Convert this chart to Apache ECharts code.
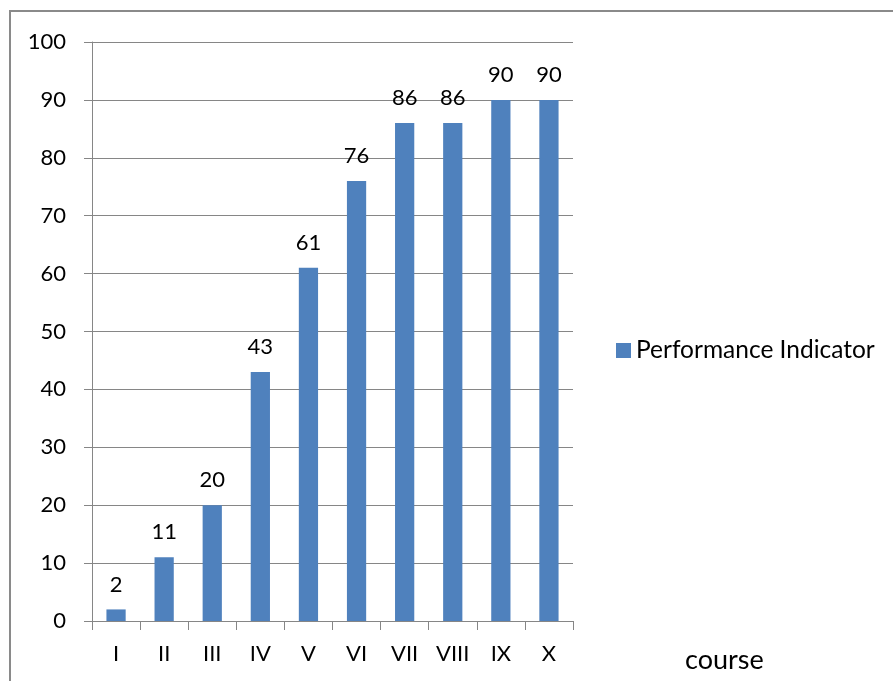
<!DOCTYPE html>
<html>
<head>
<meta charset="utf-8">
<script src="https://cdn.jsdelivr.net/npm/echarts@6/dist/echarts.min.js"></script>
<style>html,body{margin:0;padding:0;background:#fff}#c{width:893px;height:681px}</style>
</head>
<body>
<div id="c"></div>
<script>
const categories = ['I','II','III','IV','V','VI','VII','VIII','IX','X'];
const values = [2, 11, 20, 43, 61, 76, 86, 86, 90, 90];
const seriesName = 'Performance Indicator';
const axisName = 'course';

const FONT = 'Lato, "Open Sans", sans-serif';
const FS = 22;
const chart = echarts.init(document.getElementById('c'), null, {renderer: 'canvas'});
chart.setOption({
  animation: false,
  textStyle: {fontFamily: FONT},
  graphic: [{
    type: 'rect', shape: {x: 10, y: 11, width: 1000, height: 1000},
    style: {fill: 'none', stroke: '#8a8a8a', lineWidth: 2}, silent: true
  }],
  legend: {
    data: [seriesName], left: 616, top: 338, itemWidth: 15, itemHeight: 15,
    icon: 'rect', padding: 0, textStyle: {fontFamily: FONT, fontSize: 24.5, color: '#000'}
  },
  grid: {left: 92, right: 320, top: 42, bottom: 60, containLabel: false},
  xAxis: {
    type: 'category', data: categories, boundaryGap: true,
    name: axisName, nameLocation: 'end', nameGap: 112,
    nameTextStyle: {fontFamily: FONT, fontSize: 27, color: '#000', verticalAlign: 'top', padding: [26, 0, 0, 0]},
    axisLine: {lineStyle: {color: '#868686', width: 1}},
    axisTick: {show: true, length: 9, alignWithLabel: false, lineStyle: {color: '#868686'}},
    axisLabel: {fontFamily: FONT, fontSize: FS, color: '#000', margin: 22}
  },
  yAxis: {
    type: 'value', min: 0, max: 100, interval: 10,
    axisLine: {show: true, lineStyle: {color: '#868686', width: 1}},
    axisTick: {show: true, length: 8, lineStyle: {color: '#868686'}},
    splitLine: {show: true, lineStyle: {color: '#868686', width: 1}},
    axisLabel: {fontFamily: FONT, fontSize: FS, color: '#000', margin: 26}
  },
  series: [{
    name: seriesName, type: 'bar', data: values, barWidth: '40%',
    itemStyle: {color: '#4F81BD'},
    label: {show: true, position: 'top', distance: 14, fontFamily: FONT, fontSize: FS, color: '#000'}
  }]
});
</script>
</body>
</html>
